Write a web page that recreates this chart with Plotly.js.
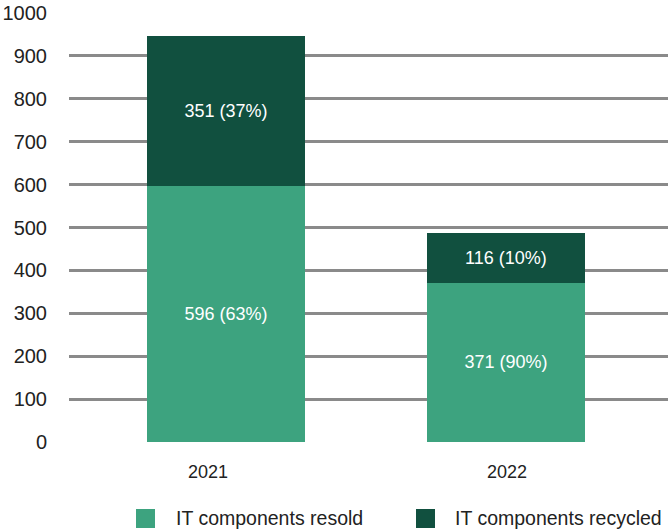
<!DOCTYPE html>
<html>
<head>
<meta charset="utf-8">
<script src="https://cdn.plot.ly/plotly-3.0.1.min.js"></script>
<style>html,body{margin:0;padding:0;background:#fff;}#chart{width:668px;height:530px;}</style>
</head>
<body>
<div id="chart"></div>
<script>
const years = ['2021', '2022'];
const seriesNames = ['IT components resold', 'IT components recycled'];
const resold = [596, 371];
const recycled = [351, 116];
const resoldPct = [63, 90];
const recycledPct = [37, 10];
const yTicks = [0, 100, 200, 300, 400, 500, 600, 700, 800, 900, 1000];

const FONT = 'Liberation Sans, Arial, sans-serif';
const COLORS = ['#3DA37F', '#11503F'];
const TXT = '#222222';

const traces = [
  {
    type: 'bar', name: seriesNames[0], x: years, y: resold,
    marker: {color: COLORS[0]},
    text: resold.map((v, i) => v + ' (' + resoldPct[i] + '%)'),
    textposition: 'inside', insidetextanchor: 'middle',
    textfont: {color: '#ffffff', size: 18, family: FONT},
    hoverinfo: 'none', showlegend: false
  },
  {
    type: 'bar', name: seriesNames[1], x: years, y: recycled,
    marker: {color: COLORS[1]},
    text: recycled.map((v, i) => v + ' (' + recycledPct[i] + '%)'),
    textposition: 'inside', insidetextanchor: 'middle',
    textfont: {color: '#ffffff', size: 18, family: FONT},
    hoverinfo: 'none', showlegend: false
  }
];

// plot area in pixels: x 69..668, y 13..442
const PL = 69, PR = 668, PT = 13, PB = 442;
const px = p => (p - PL) / (PR - PL);
const py = p => (PB - p) / (PB - PT);

// x tick labels as annotations tied to the category axis (by index)
const xLabelShift = [-18, 1];
const annotations = years.map((yr, i) => ({
  xref: 'x', yref: 'paper', x: i, y: py(471.5), xshift: xLabelShift[i],
  xanchor: 'center', yanchor: 'middle', showarrow: false,
  text: yr, font: {size: 18, color: TXT, family: FONT}
}));

// custom legend
const legendSquareX = [136, 416];
const legendTextX = [175, 454];
const shapes = [];
seriesNames.forEach((nm, i) => {
  shapes.push({
    type: 'rect', xref: 'paper', yref: 'paper',
    x0: px(legendSquareX[i]), x1: px(legendSquareX[i] + 19),
    y0: py(509), y1: py(528),
    fillcolor: COLORS[i], line: {width: 0}, layer: 'above'
  });
  annotations.push({
    xref: 'paper', yref: 'paper', x: px(legendTextX[i] - 1), y: py(518),
    xanchor: 'left', yanchor: 'middle', showarrow: false,
    text: nm, font: {size: 19.5, color: TXT, family: FONT}
  });
});

const layout = {
  width: 668, height: 530,
  margin: {l: PL, r: 0, t: PT, b: 530 - PB, pad: 0},
  paper_bgcolor: '#ffffff', plot_bgcolor: '#ffffff',
  font: {family: FONT, size: 18, color: TXT},
  barmode: 'stack',
  bargap: 0.436,
  showlegend: false,
  xaxis: {
    type: 'category', range: [-0.561, 1.579],
    showgrid: false, zeroline: false, showline: false,
    ticks: '', showticklabels: false
  },
  yaxis: {
    range: [0, 1000], tickvals: yTicks,
    showgrid: true, gridcolor: '#8a8a8a', gridwidth: 3,
    zeroline: false, showline: false,
    ticks: '', ticklabelstandoff: 21,
    tickfont: {size: 20, color: TXT}
  },
  shapes: shapes,
  annotations: annotations
};

Plotly.newPlot('chart', traces, layout, {displayModeBar: false, staticPlot: true});
</script>
</body>
</html>
